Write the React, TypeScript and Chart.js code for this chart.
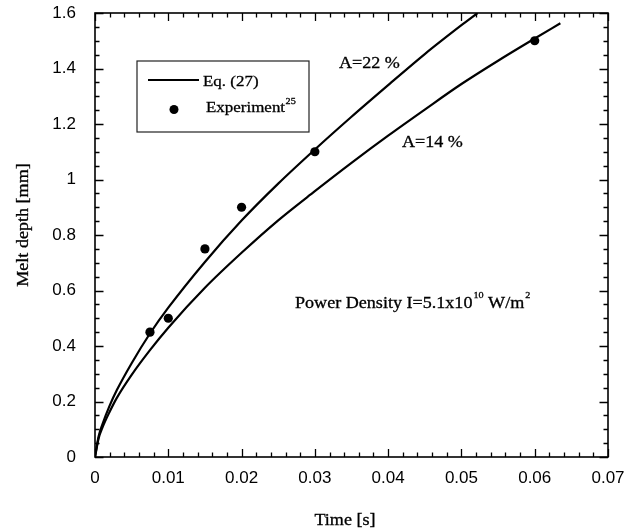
import React, { useEffect, useRef } from 'react';
import { Chart, registerables } from 'chart.js';

Chart.register(...registerables);

// Model curve Eq. (27), absorptivity A = 22 %
const timeA22 = [0, 0.0005, 0.001, 0.002, 0.003, 0.005, 0.0075, 0.01, 0.015, 0.02, 0.025, 0.03, 0.035, 0.04, 0.045, 0.05, 0.0522];
const depthA22 = [0, 0.075, 0.117, 0.185, 0.242, 0.338, 0.445, 0.538, 0.703, 0.852, 0.985, 1.108, 1.226, 1.34, 1.452, 1.556, 1.6];

// Model curve Eq. (27), absorptivity A = 14 %
const timeA14 = [0, 0.0005, 0.001, 0.002, 0.003, 0.005, 0.0075, 0.01, 0.015, 0.02, 0.025, 0.03, 0.035, 0.04, 0.045, 0.05, 0.055, 0.06, 0.0635];
const depthA14 = [0, 0.068, 0.105, 0.163, 0.214, 0.296, 0.385, 0.466, 0.61, 0.736, 0.853, 0.958, 1.06, 1.158, 1.252, 1.344, 1.428, 1.508, 1.563];

// Experiment (ref. 25)
const expTime = [0.0075, 0.01, 0.015, 0.02, 0.03, 0.06];
const expDepth = [0.45, 0.5, 0.75, 0.9, 1.1, 1.5];

// Axes
const xTickValues = [0, 0.01, 0.02, 0.03, 0.04, 0.05, 0.06, 0.07];
const yTickValues = [0, 0.2, 0.4, 0.6, 0.8, 1, 1.2, 1.4, 1.6];
const xMinorPerMajor = 5;
const yMinorPerMajor = 4;

const xTitle = 'Time [s]';
const yTitle = 'Melt depth [mm]';
const legendLineLabel = 'Eq. (27)';
const legendPointLabel = 'Experiment';
const legendPointSup = '25';
const labelA22 = 'A=22 %';
const labelA14 = 'A=14 %';
const powerText = 'Power Density I=5.1x10';
const powerSup1 = '10';
const powerText2 = ' W/m';
const powerSup2 = '2';

const SERIF = '"Liberation Serif", "Times New Roman", serif';
const SANS = '"Liberation Sans", Arial, sans-serif';
const STRETCH = 1.13;

function stretchedText(ctx: CanvasRenderingContext2D, text: string, x: number, y: number, size: number): number {
  ctx.save();
  ctx.font = `${size}px ${SERIF}`;
  ctx.textBaseline = 'alphabetic';
  ctx.textAlign = 'left';
  ctx.translate(x, y);
  ctx.scale(STRETCH, 1);
  ctx.fillText(text, 0, 0);
  ctx.lineWidth = 0.3;
  ctx.strokeText(text, 0, 0);
  const w = ctx.measureText(text).width * STRETCH;
  ctx.restore();
  return x + w;
}

const framePlugin = {
  id: 'frameAndText',
  afterDatasetsDraw(chart: any) {
    const { ctx, chartArea } = chart;
    const { left, right, top, bottom } = chartArea;
    const xs = chart.scales.x;
    const ys = chart.scales.y;
    ctx.save();
    ctx.strokeStyle = '#000';
    ctx.fillStyle = '#000';
    ctx.lineWidth = 1.6;
    ctx.strokeRect(left, top, right - left, bottom - top);

    // inward ticks on all four sides
    ctx.lineWidth = 1.3;
    ctx.beginPath();
    for (let i = 0; i < xTickValues.length; i++) {
      const v0 = xTickValues[i];
      const v1 = i + 1 < xTickValues.length ? xTickValues[i + 1] : null;
      const steps = v1 === null ? 1 : xMinorPerMajor;
      for (let k = 0; k < steps; k++) {
        const v = v1 === null ? v0 : v0 + ((v1 - v0) * k) / xMinorPerMajor;
        const px = Math.round(xs.getPixelForValue(v)) + 0.5;
        const len = k === 0 ? 8 : 4.5;
        ctx.moveTo(px, bottom);
        ctx.lineTo(px, bottom - len);
        ctx.moveTo(px, top);
        ctx.lineTo(px, top + len);
      }
    }
    for (let i = 0; i < yTickValues.length; i++) {
      const v0 = yTickValues[i];
      const v1 = i + 1 < yTickValues.length ? yTickValues[i + 1] : null;
      const steps = v1 === null ? 1 : yMinorPerMajor;
      for (let k = 0; k < steps; k++) {
        const v = v1 === null ? v0 : v0 + ((v1 - v0) * k) / yMinorPerMajor;
        const py = Math.round(ys.getPixelForValue(v)) + 0.5;
        const len = k === 0 ? 8.5 : 4.5;
        ctx.moveTo(left, py);
        ctx.lineTo(left + len, py);
        ctx.moveTo(right, py);
        ctx.lineTo(right - len, py);
      }
    }
    ctx.stroke();

    // legend box
    ctx.lineWidth = 1.2;
    ctx.strokeStyle = '#222';
    ctx.strokeRect(137, 61, 172, 71);
    ctx.strokeStyle = '#000';
    ctx.lineWidth = 2;
    ctx.beginPath();
    ctx.moveTo(148, 80);
    ctx.lineTo(199, 80);
    ctx.stroke();
    stretchedText(ctx, legendLineLabel, 203, 86, 15);
    ctx.beginPath();
    ctx.arc(174, 109.5, 4.5, 0, Math.PI * 2);
    ctx.fill();
    const ex = stretchedText(ctx, legendPointLabel, 206, 112, 15);
    stretchedText(ctx, legendPointSup, ex + 0.5, 104, 9);

    // curve labels
    stretchedText(ctx, labelA22, 339, 68, 16);
    stretchedText(ctx, labelA14, 402, 147, 16);

    // power density note
    const p1 = stretchedText(ctx, powerText, 295, 308, 16);
    const p2 = stretchedText(ctx, powerSup1, p1 + 1, 298, 9);
    const p3 = stretchedText(ctx, powerText2, p2, 308, 16);
    stretchedText(ctx, powerSup2, p3 + 1, 298, 9);

    // axis titles
    ctx.font = `16px ${SERIF}`;
    const tw = ctx.measureText(xTitle).width * STRETCH;
    stretchedText(ctx, xTitle, 345 - tw / 2, 525, 16);

    ctx.save();
    ctx.translate(28, 225);
    ctx.rotate(-Math.PI / 2);
    ctx.font = `16px ${SERIF}`;
    const yw = ctx.measureText(yTitle).width * STRETCH;
    stretchedText(ctx, yTitle, -yw / 2, 0, 16);
    ctx.restore();

    ctx.restore();
  },
};

function fmt(v: number): string {
  return String(Number(v.toFixed(3)));
}

export default function App() {
  const canvasRef = useRef<HTMLCanvasElement | null>(null);

  useEffect(() => {
    const canvas = canvasRef.current;
    if (!canvas) return;
    const chart = new Chart(canvas, {
      type: 'scatter',
      data: {
        datasets: [
          {
            type: 'line',
            label: 'A=22 %',
            data: timeA22.map((t, i) => ({ x: t, y: depthA22[i] })),
            borderColor: '#000',
            borderWidth: 2.2,
            pointRadius: 0,
            fill: false,
            cubicInterpolationMode: 'monotone',
          },
          {
            type: 'line',
            label: 'A=14 %',
            data: timeA14.map((t, i) => ({ x: t, y: depthA14[i] })),
            borderColor: '#000',
            borderWidth: 2.2,
            pointRadius: 0,
            fill: false,
            cubicInterpolationMode: 'monotone',
          },
          {
            type: 'scatter',
            label: 'Experiment',
            data: expTime.map((t, i) => ({ x: t, y: expDepth[i] })),
            backgroundColor: '#000',
            borderColor: '#000',
            pointRadius: 4.6,
            borderWidth: 0,
          },
        ],
      },
      options: {
        responsive: false,
        animation: false,
        events: [],
        layout: { padding: { left: 0, top: 0, right: 32, bottom: 0 } },
        plugins: { legend: { display: false }, tooltip: { enabled: false } },
        scales: {
          x: {
            type: 'linear',
            min: 0,
            max: 0.07,
            grid: { display: false, drawTicks: false },
            border: { display: false },
            afterBuildTicks: (s: any) => {
              s.ticks = xTickValues.map((v) => ({ value: v }));
            },
            afterFit: (s: any) => {
              s.height = 72;
            },
            ticks: {
              padding: 11,
              color: '#000',
              font: { family: SANS, size: 17 },
              callback: (v: any) => fmt(Number(v)),
              maxRotation: 0,
              autoSkip: false,
            },
          },
          y: {
            type: 'linear',
            min: 0,
            max: 1.6,
            grid: { display: false, drawTicks: false },
            border: { display: false },
            afterBuildTicks: (s: any) => {
              s.ticks = yTickValues.map((v) => ({ value: v }));
            },
            afterFit: (s: any) => {
              s.width = 95;
              s.paddingTop = 13;
              s.paddingBottom = 0;
            },
            ticks: {
              padding: 19,
              color: '#000',
              font: { family: SANS, size: 17 },
              callback: (v: any) => fmt(Number(v)),
              autoSkip: false,
            },
          },
        },
      },
      plugins: [framePlugin],
    });
    return () => chart.destroy();
  }, []);

  return (
    <div style={{ position: 'fixed', left: 0, top: 0, width: 640, height: 529, background: '#fff' }}>
      <canvas ref={canvasRef} width={640} height={529} style={{ display: 'block' }} />
    </div>
  );
}
